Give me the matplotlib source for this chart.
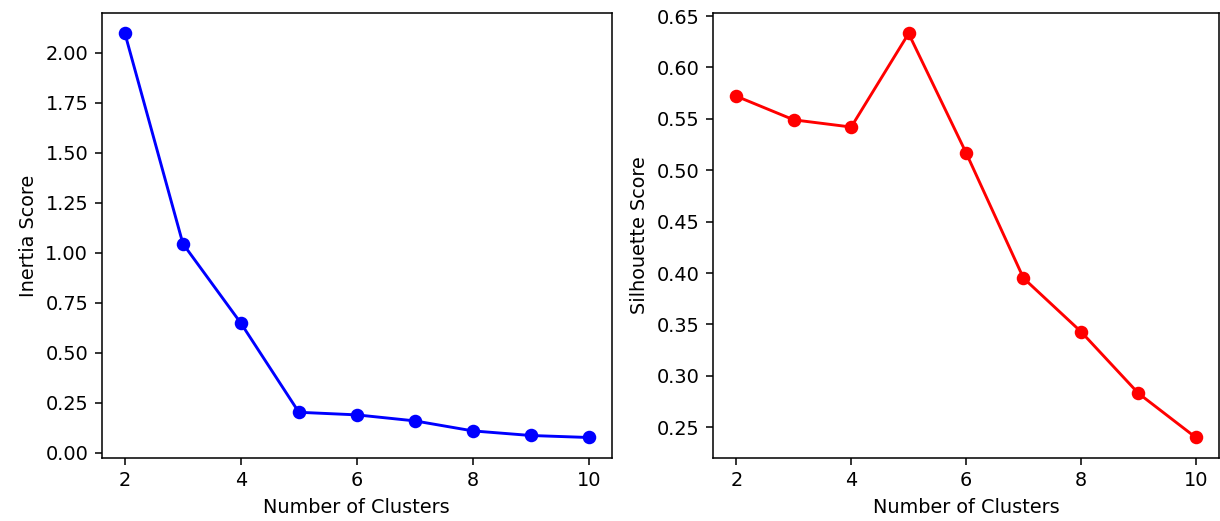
import matplotlib
matplotlib.use("Agg")
import matplotlib.pyplot as plt

# cluster counts and scores
clusters = [2, 3, 4, 5, 6, 7, 8, 9, 10]
inertia = [2.095, 1.045, 0.648, 0.203, 0.19, 0.16, 0.11, 0.087, 0.077]
silhouette = [0.572, 0.549, 0.542, 0.633, 0.517, 0.395, 0.343, 0.283, 0.240]

dpi = 139
fig, (ax1, ax2) = plt.subplots(1, 2, figsize=(1220 / dpi, 521 / dpi), dpi=dpi)
ax1.set_position([0.0834, 0.1215, 0.5016 - 0.0834, 0.9745 - 0.1215])
ax2.set_position([0.5847, 0.1215, 0.999 - 0.5847, 0.9745 - 0.1215])

ax1.plot(clusters, inertia, marker='o', color='blue')
ax1.set_xlabel('Number of Clusters')
ax1.set_ylabel('Inertia Score')

ax2.plot(clusters, silhouette, marker='o', color='red')
ax2.set_xlabel('Number of Clusters')
ax2.set_ylabel('Silhouette Score')

fig.savefig('out.png', dpi=dpi)
